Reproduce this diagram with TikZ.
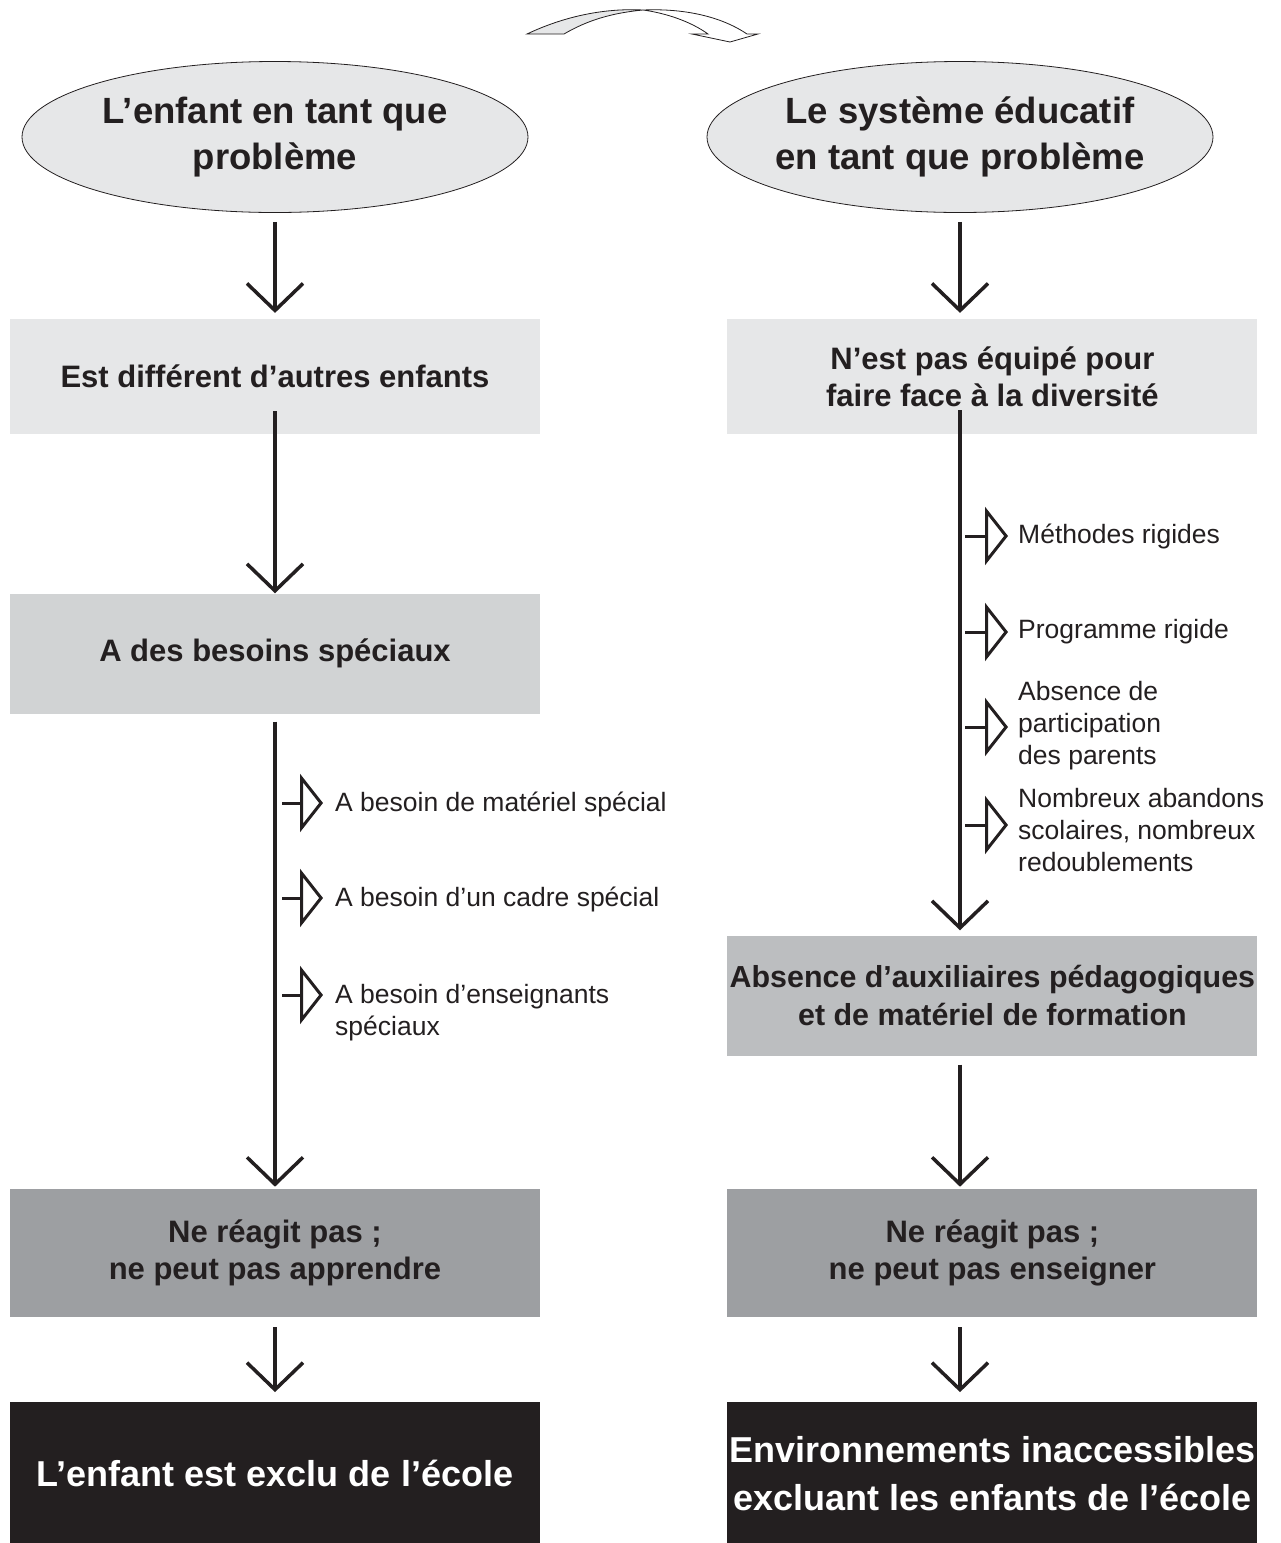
\documentclass[tikz,border=0pt]{standalone}
\usepackage{fontspec}
\setmainfont{Liberation Sans}
\usetikzlibrary{shapes.geometric,arrows.meta,positioning}
\definecolor{ink}{HTML}{231F20}
\definecolor{greyA}{HTML}{E6E7E8}
\definecolor{greyB}{HTML}{D1D3D4}
\definecolor{greyC}{HTML}{BCBEC0}
\definecolor{greyD}{HTML}{9D9FA2}

\begin{document}
\begin{tikzpicture}[x=1pt, y=-1pt,
  head/.style={ellipse, draw=ink, line width=0.8pt, fill=greyA, text=ink, minimum width=506pt, minimum height=151pt, inner sep=-30pt, align=center, font=\bfseries\fontsize{36.5}{46}\selectfont},
  box/.style={rectangle, minimum width=530pt, inner sep=0pt, text=ink, align=center, font=\bfseries\fontsize{31}{37.5}\selectfont},
  outbox/.style={box, fill=ink, text=white, minimum height=143pt, font=\bfseries\fontsize{36}{48}\selectfont},
  arr/.style={-{Straight Barb[length=27pt,width=56pt]}, line width=3.5pt, draw=ink},
  sub/.style={-{Triangle[open,length=23pt,width=58pt]}, line width=3pt, draw=ink},
  note/.style={anchor=west, inner sep=0pt, align=left, text=ink, font=\fontsize{26.5}{32}\selectfont}
]
\useasboundingbox (0,0) rectangle (1281,1543);

\filldraw[fill=greyA, draw=ink, line width=0.8pt] (527,34) .. controls (565,16) and (605,8) .. (643,10) .. controls (612,13) and (588,20) .. (564,34) -- cycle;
\filldraw[fill=white, draw=ink, line width=0.8pt] (643,10) .. controls (665,13) and (690,21) .. (708,34) -- (692,34) -- (730,42) -- (758,34) -- (747,34) .. controls (725,19) and (690,8) .. (643,10) -- cycle;

\node[head] (childP) at (275,137) {L'enfant en tant que\\problème};
\node[head] (sysP) at (960,137) {Le système éducatif\\en tant que problème};

\node[box, fill=greyA, minimum height=115pt, below=106pt of childP] (diffL) {Est différent d'autres enfants};
\node[box, fill=greyB, minimum height=120pt, below=159pt of diffL] (needL) {A des besoins spéciaux};
\node[box, fill=greyD, minimum height=128pt, below=475pt of needL] (failL) {Ne réagit pas~;\\ne peut pas apprendre};
\node[outbox, below=85pt of failL] (exclL) {L'enfant est exclu de l'école};

\node[box, fill=greyA, minimum height=115pt, right=187pt of diffL] (diversR) {N'est pas équipé pour\\faire face à la diversité};
\node[box, fill=greyC, minimum height=120pt, below=501pt of diversR, font=\bfseries\fontsize{30.4}{37.5}\selectfont] (aidsR) {Absence d'auxiliaires pédagogiques\\et de matériel de formation};
\node[box, fill=greyD, minimum height=128pt, right=187pt of failL] (failR) {Ne réagit pas~;\\ne peut pas enseigner};
\node[outbox, right=187pt of exclL] (exclR) {Environnements inaccessibles\\excluant les enfants de l'école};

\draw[arr, shorten <=9pt, shorten >=6pt] (childP.south -| diffL.north) -- (diffL.north);
\draw[arr, shorten <=-23pt] (diffL.south) -- (needL.north);
\draw[arr, shorten <=8pt, shorten >=2pt] (needL.south) -- (failL.north);
\draw[arr, shorten <=10pt, shorten >=10pt] (failL.south) -- (exclL.north);

\draw[arr, shorten <=9pt, shorten >=6pt] (sysP.south) -- (sysP.south |- diversR.north);
\draw[arr, shorten <=-24pt, shorten >=5pt] (sysP.south |- diversR.south) -- (sysP.south |- aidsR.north);
\draw[arr, shorten <=9pt, shorten >=2pt] (sysP.south |- aidsR.south) -- (sysP.south |- failR.north);
\draw[arr, shorten <=10pt, shorten >=10pt] (sysP.south |- failR.south) -- (sysP.south |- exclR.north);

\foreach \ay/\ty/\txt [count=\i] in {803/804/{A besoin de matériel spécial}, 898/899/{A besoin d'un cadre spécial}, 995/1013/{A besoin d'enseignants\\spéciaux}}{
  \coordinate (ls\i) at (282,\ay);
  \node[note] (ln\i) at (335,\ty) {\txt};
  \draw[sub, shorten >=12pt] (ls\i) -- (ls\i -| ln\i.west);
}

\foreach \ay/\ty/\txt [count=\i] in {536/536/{Méthodes rigides}, 632/632/{Programme rigide}, 727/726/{Absence de\\participation\\des parents}, 825/830/{Nombreux abandons\\scolaires, nombreux\\redoublements}}{
  \coordinate (rs\i) at (965,\ay);
  \node[note] (rn\i) at (1018,\ty) {\txt};
  \draw[sub, shorten >=10pt] (rs\i) -- (rs\i -| rn\i.west);
}
\end{tikzpicture}
\end{document}
